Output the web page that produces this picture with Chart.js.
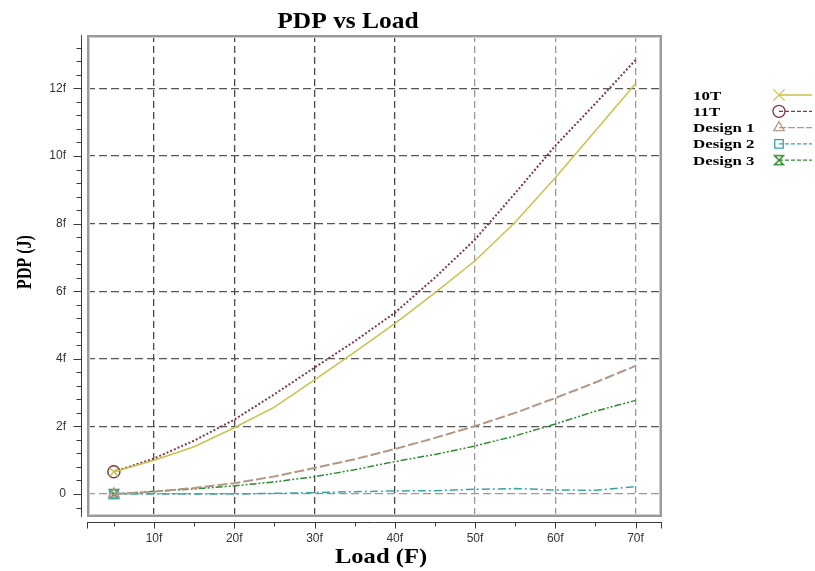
<!DOCTYPE html>
<html>
<head>
<meta charset="utf-8">
<title>PDP vs Load</title>
<script src="https://cdn.jsdelivr.net/npm/chart.js@4.4.1/dist/chart.umd.min.js"></script>
<style>
  html, body { margin: 0; padding: 0; background: #fff; }
  #grafico-wrap { width: 815px; height: 571px; }
</style>
</head>
<body>
<div id="grafico-wrap"><canvas id="graficoPDP" width="815" height="571"></canvas></div>
<script>
// carga (fF) e PDP (fJ)
const cargas  = [5, 10, 15, 20, 25, 30, 35, 40, 45, 50, 55, 60, 65, 70];
const pdp10T  = [0.65, 1.00, 1.40, 1.96, 2.57, 3.38, 4.20, 5.04, 5.95, 6.90, 8.04, 9.36, 10.75, 12.14];
const pdp11T  = [0.66, 1.05, 1.58, 2.20, 2.95, 3.74, 4.52, 5.36, 6.40, 7.53, 8.90, 10.30, 11.55, 12.84];
const design1 = [0.00, 0.07, 0.18, 0.32, 0.52, 0.77, 1.03, 1.33, 1.66, 2.01, 2.40, 2.84, 3.30, 3.79];
const design2 = [0.00, 0.00, 0.00, 0.00, 0.02, 0.04, 0.07, 0.09, 0.10, 0.14, 0.16, 0.12, 0.11, 0.22];
const design3 = [0.00, 0.08, 0.15, 0.24, 0.36, 0.51, 0.72, 0.96, 1.17, 1.42, 1.72, 2.07, 2.45, 2.77];

const ticksX = [10, 20, 30, 40, 50, 60, 70];
const ticksY = [0, 2, 4, 6, 8, 10, 12];

const SERIF = '"Liberation Serif", "Times New Roman", serif';
const SANS = '"Liberation Sans", Arial, sans-serif';

// ampulheta para o Design 3 (nao existe no Chart.js)
function criarAmpulheta(cor) {
  const c = document.createElement('canvas');
  c.width = 12; c.height = 12;
  const g = c.getContext('2d');
  g.strokeStyle = cor;
  g.lineWidth = 1.5;
  g.beginPath();
  g.moveTo(1.5, 1.5); g.lineTo(10.5, 1.5); g.lineTo(1.5, 10.5); g.lineTo(10.5, 10.5); g.closePath();
  g.stroke();
  return c;
}

const series = [
  { nome: '10T',      dados: pdp10T,  cor: '#c9c24a', traco: [],             largura: 1.5, ponto: 'crossRot' },
  { nome: '11T',      dados: pdp11T,  cor: '#7d3a4a', traco: [2, 2],         largura: 2,   ponto: 'circle' },
  { nome: 'Design 1', dados: design1, cor: '#b39886', traco: [10, 3],        largura: 2,   ponto: 'triangle' },
  { nome: 'Design 2', dados: design2, cor: '#3aa3a6', traco: [8, 3, 2, 3],   largura: 1.5, ponto: 'rect' },
  { nome: 'Design 3', dados: design3, cor: '#2f8a2f', traco: [7, 2, 2, 2, 2, 2], largura: 1.5, ponto: null },
];
series[4].ponto = criarAmpulheta(series[4].cor);

// texto esticado na horizontal, como no original
function texto(ctx, str, x, y, fonte, escalaX, align) {
  ctx.save();
  ctx.font = fonte;
  ctx.textAlign = align || 'center';
  ctx.textBaseline = 'alphabetic';
  ctx.fillStyle = '#000';
  ctx.translate(x, y);
  ctx.scale(escalaX, 1);
  ctx.fillText(str, 0, 0);
  ctx.restore();
}

function linha(ctx, x1, y1, x2, y2) {
  ctx.beginPath();
  ctx.moveTo(x1, y1);
  ctx.lineTo(x2, y2);
  ctx.stroke();
}

const molduraPlugin = {
  id: 'moldura',
  afterDraw(chart) {
    const { ctx, chartArea: a, scales: { x, y } } = chart;
    ctx.save();

    // moldura cinza do grafico (linha dupla)
    ctx.strokeStyle = '#9a9a9a';
    ctx.lineWidth = 2;
    ctx.strokeRect(a.left + 1, a.top + 1, a.right - a.left - 2, a.bottom - a.top - 2);
    ctx.strokeStyle = '#d0d0d0';
    ctx.lineWidth = 1;
    ctx.strokeRect(a.left + 2.5, a.top + 2.5, a.right - a.left - 5, a.bottom - a.top - 5);

    // eixo y separado, com marcas a cada 0.4f
    ctx.strokeStyle = '#3c3c3c';
    ctx.lineWidth = 1;
    const ex = a.left - 5.5;
    linha(ctx, ex, a.top, ex, a.bottom);
    for (let k = -2; k <= 40; k++) {
      const py = Math.round(y.getPixelForValue(k * 0.4)) + 0.5;
      if (py < a.top || py > a.bottom) continue;
      const tam = k % 5 === 0 ? 8 : 5;
      linha(ctx, ex - tam, py, ex, py);
    }

    // eixo x separado, com marcas a cada 5f
    const ey = a.bottom + 5.5;
    linha(ctx, a.left, ey, a.right, ey);
    linha(ctx, a.left + 0.5, ey, a.left + 0.5, ey + 6);
    linha(ctx, a.right - 0.5, ey, a.right - 0.5, ey + 6);
    for (let k = 1; k <= 14; k++) {
      const px = Math.round(x.getPixelForValue(k * 5)) + 0.5;
      linha(ctx, px, ey, px, ey + (k % 2 === 0 ? 6 : 4));
    }
    ctx.restore();

    // titulos
    texto(ctx, 'PDP vs Load', 348, 28, 'bold 24px ' + SERIF, 1.06);
    texto(ctx, 'Load (F)', 381, 563, 'bold 21px ' + SERIF, 1.17);
    ctx.save();
    ctx.translate(31, 262);
    ctx.rotate(-Math.PI / 2);
    ctx.scale(1, 1.35);
    ctx.font = 'bold 16px ' + SERIF;
    ctx.textAlign = 'center';
    ctx.textBaseline = 'alphabetic';
    ctx.fillStyle = '#000';
    ctx.fillText('PDP (J)', 0, 0);
    ctx.restore();

    // legenda a direita
    series.forEach((s, i) => {
      const ly = 95 + i * 16.3;
      texto(ctx, s.nome, 693, ly + 4.5, 'bold 13px ' + SERIF, 1.3, 'left');
      ctx.save();
      ctx.strokeStyle = s.cor;
      ctx.fillStyle = 'rgba(0,0,0,0)';
      ctx.lineWidth = 1.3;
      ctx.setLineDash(i === 0 ? [] : (i === 2 ? [7, 2] : [4, 2]));
      linha(ctx, 779, ly, 812, ly);
      ctx.setLineDash([]);
      if (typeof s.ponto === 'string') {
        const raio = i === 0 ? 8 : 6;
        Chart.helpers.drawPoint(ctx, { pointStyle: s.ponto, radius: raio, rotation: 0, borderWidth: 1.3 }, 779, ly);
      } else {
        ctx.drawImage(s.ponto, 773, ly - 6);
      }
      ctx.restore();
    });
  }
};

function carregarGrafico() {
  const ctx = document.getElementById('graficoPDP').getContext('2d');

  const datasets = series.map(s => ({
    label: s.nome,
    data: cargas.map((c, i) => ({ x: c, y: s.dados[i] })),
    borderColor: s.cor,
    borderWidth: s.largura,
    borderDash: s.traco,
    fill: false,
    tension: 0,
    pointStyle: s.ponto,
    pointRadius: c => c.dataIndex === 0 ? 6 : 0,
    pointBorderColor: s.cor,
    pointBackgroundColor: 'rgba(0,0,0,0)',
    pointBorderWidth: 1.5
  }));

  new Chart(ctx, {
    type: 'line',
    data: { datasets },
    options: {
      responsive: false,
      animation: false,
      devicePixelRatio: 1,
      layout: { padding: { top: 35, right: 153, left: 0, bottom: 0 } },
      plugins: { legend: { display: false }, title: { display: false }, tooltip: { enabled: false } },
      scales: {
        x: {
          type: 'linear',
          min: 1.65,
          max: 73.3,
          afterBuildTicks: s => { s.ticks = ticksX.map(v => ({ value: v })); },
          afterFit: s => { s.height = 54; },
          border: { display: false, dash: [7, 4] },
          grid: {
            drawTicks: false,
            lineWidth: 1.3,
            color: c => (c.tick && c.tick.value >= 50) ? '#9a9a9a' : '#4a4a4a'
          },
          ticks: {
            padding: 14,
            color: '#333',
            font: { family: SANS, size: 12 },
            callback: v => v + 'f'
          }
        },
        y: {
          type: 'linear',
          min: -0.68,
          max: 13.58,
          afterBuildTicks: s => { s.ticks = ticksY.map(v => ({ value: v })); },
          afterFit: s => { s.width = 87; },
          border: { display: false, dash: [8, 4] },
          grid: {
            drawTicks: false,
            lineWidth: 1.3,
            color: c => (c.tick && c.tick.value === 0) ? '#9a9a9a' : '#555'
          },
          ticks: {
            padding: 21,
            color: '#333',
            font: { family: SANS, size: 12 },
            callback: v => v === 0 ? '0' : v + 'f'
          }
        }
      }
    },
    plugins: [molduraPlugin]
  });
}

document.addEventListener('DOMContentLoaded', carregarGrafico);
</script>
</body>
</html>
